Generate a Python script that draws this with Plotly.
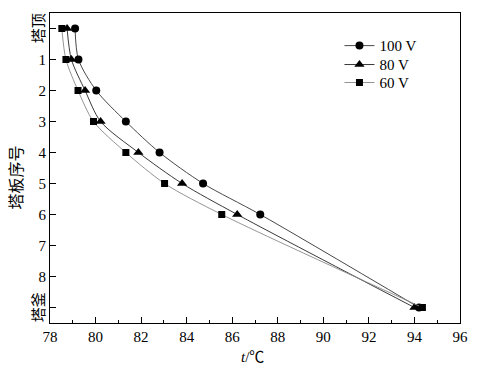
import plotly.graph_objects as go

stages = [0, 1, 2, 3, 4, 5, 6, 9]
t_100 = [79.10, 79.25, 80.03, 81.33, 82.81, 84.72, 87.23, 94.20]
t_80 = [78.75, 78.94, 79.54, 80.22, 81.88, 83.80, 86.22, 94.00]
t_60 = [78.52, 78.70, 79.23, 79.91, 81.33, 83.03, 85.54, 94.35]
series_names = ["100 V", "80 V", "60 V"]
y_tickvals = list(range(10))
y_ticktext = ["", "1", "2", "3", "4", "5", "6", "7", "8", ""]
x_tickvals = list(range(78, 97, 2))

FONT = "Liberation Serif, Noto Sans CJK SC"
CJK = "Noto Sans CJK SC"

fig = go.Figure()
styles = [
    (t_100, "circle", 8, "#333333", "legend", 0.894),
    (t_80, "triangle-up", 9, "#222222", "legend2", 0.833),
    (t_60, "square", 7, "#888888", "legend3", 0.775),
]
legend_cfg = {}
for (vals, sym, sz, lc, lg, ly), name in zip(styles, series_names):
    fig.add_trace(go.Scatter(
        x=vals, y=stages, mode="lines+markers", name=name, legend=lg,
        line=dict(color=lc, width=0.9, shape="spline", smoothing=0.8),
        marker=dict(symbol=sym, size=sz, color="black"),
    ))
    legend_cfg[lg] = dict(x=0.706, y=ly, xanchor="left", yanchor="middle",
                          bgcolor="rgba(0,0,0,0)", font=dict(size=15, family=FONT),
                          itemwidth=30)

fig.update_layout(
    width=480, height=368,
    margin=dict(l=50, r=16, t=12, b=45),
    paper_bgcolor="white", plot_bgcolor="white",
    font=dict(family=FONT, size=15, color="black"),
    showlegend=True,
    xaxis=dict(range=[78, 96], tickvals=x_tickvals, ticks="inside", ticklen=6,
               tickwidth=1, tickcolor="black",
               minor=dict(dtick=1, ticks="inside", ticklen=3, tickcolor="black"),
               showline=True, linecolor="black", linewidth=1.2, mirror=True,
               showgrid=False, zeroline=False),
    yaxis=dict(range=[9.5, -0.5], tickvals=y_tickvals, ticktext=y_ticktext,
               ticks="inside", ticklen=6, tickcolor="black",
               showline=True, linecolor="black", linewidth=1.2, mirror=True,
               showgrid=False, zeroline=False),
    annotations=[
        dict(text="塔顶", x=-0.03, y=0, xref="paper", yref="y", textangle=-90,
             showarrow=False, font=dict(family=CJK, size=15), xanchor="center", yanchor="middle"),
        dict(text="塔釜", x=-0.03, y=9, xref="paper", yref="y", textangle=-90,
             showarrow=False, font=dict(family=CJK, size=15), xanchor="center", yanchor="middle"),
        dict(text="塔板序号", x=-0.085, y=0.47, xref="paper", yref="paper", textangle=-90,
             showarrow=False, font=dict(family=CJK, size=16), xanchor="center", yanchor="middle"),
        dict(text="<i>t</i>/℃", x=0.495, y=-0.11, xref="paper", yref="paper",
             showarrow=False, font=dict(family=FONT, size=15), xanchor="center", yanchor="middle"),
    ],
)
fig.update_layout(**legend_cfg)

fig.write_html("out.html", config={"displayModeBar": False},
               post_script="document.body.style.margin='0';document.body.style.padding='0';")
